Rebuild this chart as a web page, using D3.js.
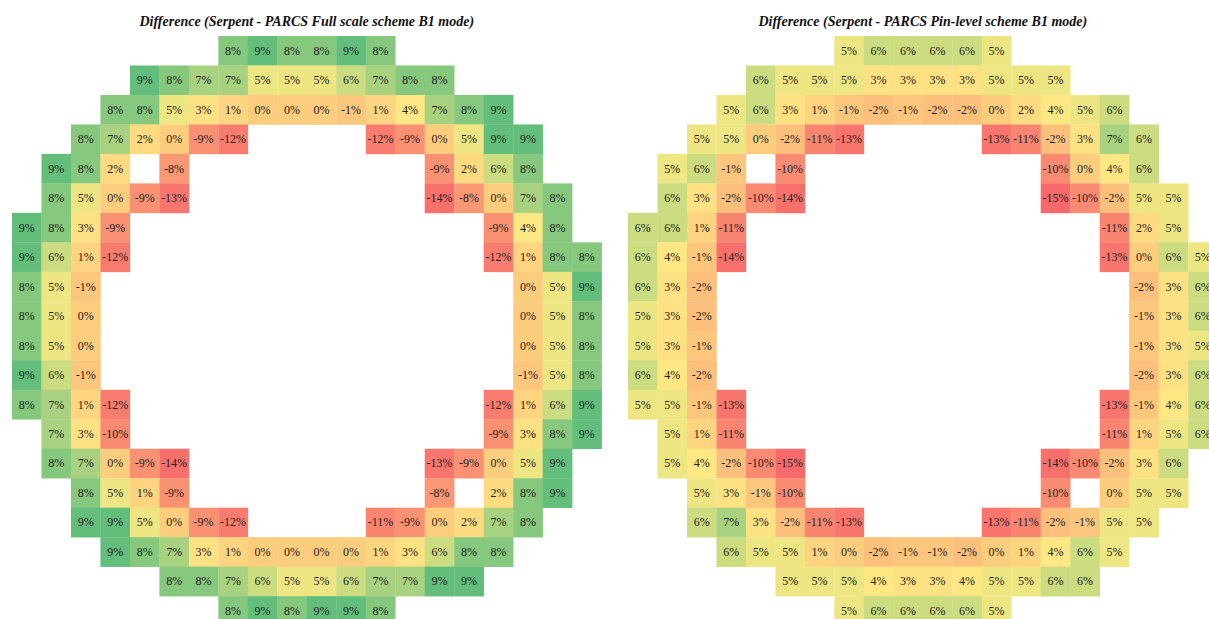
<!DOCTYPE html>
<html>
<head>
<meta charset="utf-8">
<script src="https://cdn.jsdelivr.net/npm/d3@7/dist/d3.min.js"></script>
<style>
  html, body { margin: 0; padding: 0; background: #fff; overflow: hidden; }
  svg { display: block; }
</style>
</head>
<body>
<svg id="chart" width="1209" height="619"></svg>
<script>
// Core map: 20 x 20 assembly positions, empty positions are null.
const _ = null;

const fullScaleTitle = "Difference (Serpent - PARCS Full scale scheme B1 mode)";
const pinLevelTitle = "Difference (Serpent - PARCS Pin-level scheme B1 mode)";

// Relative difference (%) per assembly, full scale scheme
const fullScaleDiff = [
  [_, _, _, _, _, _, _, 8, 9, 8, 8, 9, 8, _, _, _, _, _, _, _],
  [_, _, _, _, 9, 8, 7, 7, 5, 5, 5, 6, 7, 8, 8, _, _, _, _, _],
  [_, _, _, 8, 8, 5, 3, 1, 0, 0, 0, -1, 1, 4, 7, 8, 9, _, _, _],
  [_, _, 8, 7, 2, 0, -9, -12, _, _, _, _, -12, -9, 0, 5, 9, 9, _, _],
  [_, 9, 8, 2, _, -8, _, _, _, _, _, _, _, _, -9, 2, 6, 8, _, _],
  [_, 8, 5, 0, -9, -13, _, _, _, _, _, _, _, _, -14, -8, 0, 7, 8, _],
  [9, 8, 3, -9, _, _, _, _, _, _, _, _, _, _, _, _, -9, 4, 8, _],
  [9, 6, 1, -12, _, _, _, _, _, _, _, _, _, _, _, _, -12, 1, 8, 8],
  [8, 5, -1, _, _, _, _, _, _, _, _, _, _, _, _, _, _, 0, 5, 9],
  [8, 5, 0, _, _, _, _, _, _, _, _, _, _, _, _, _, _, 0, 5, 8],
  [8, 5, 0, _, _, _, _, _, _, _, _, _, _, _, _, _, _, 0, 5, 8],
  [9, 6, -1, _, _, _, _, _, _, _, _, _, _, _, _, _, _, -1, 5, 8],
  [8, 7, 1, -12, _, _, _, _, _, _, _, _, _, _, _, _, -12, 1, 6, 9],
  [_, 7, 3, -10, _, _, _, _, _, _, _, _, _, _, _, _, -9, 3, 8, 9],
  [_, 8, 7, 0, -9, -14, _, _, _, _, _, _, _, _, -13, -9, 0, 5, 9, _],
  [_, _, 8, 5, 1, -9, _, _, _, _, _, _, _, _, -8, _, 2, 8, 9, _],
  [_, _, 9, 9, 5, 0, -9, -12, _, _, _, _, -11, -9, 0, 2, 7, 8, _, _],
  [_, _, _, 9, 8, 7, 3, 1, 0, 0, 0, 0, 1, 3, 6, 8, 8, _, _, _],
  [_, _, _, _, _, 8, 8, 7, 6, 5, 5, 6, 7, 7, 9, 9, _, _, _, _],
  [_, _, _, _, _, _, _, 8, 9, 8, 9, 9, 8, _, _, _, _, _, _, _]
];

// Relative difference (%) per assembly, pin-level scheme
const pinLevelDiff = [
  [_, _, _, _, _, _, _, 5, 6, 6, 6, 6, 5, _, _, _, _, _, _, _],
  [_, _, _, _, 6, 5, 5, 5, 3, 3, 3, 3, 5, 5, 5, _, _, _, _, _],
  [_, _, _, 5, 6, 3, 1, -1, -2, -1, -2, -2, 0, 2, 4, 5, 6, _, _, _],
  [_, _, 5, 5, 0, -2, -11, -13, _, _, _, _, -13, -11, -2, 3, 7, 6, _, _],
  [_, 5, 6, -1, _, -10, _, _, _, _, _, _, _, _, -10, 0, 4, 6, _, _],
  [_, 6, 3, -2, -10, -14, _, _, _, _, _, _, _, _, -15, -10, -2, 5, 5, _],
  [6, 6, 1, -11, _, _, _, _, _, _, _, _, _, _, _, _, -11, 2, 5, _],
  [6, 4, -1, -14, _, _, _, _, _, _, _, _, _, _, _, _, -13, 0, 6, 5],
  [6, 3, -2, _, _, _, _, _, _, _, _, _, _, _, _, _, _, -2, 3, 6],
  [5, 3, -2, _, _, _, _, _, _, _, _, _, _, _, _, _, _, -1, 3, 6],
  [5, 3, -1, _, _, _, _, _, _, _, _, _, _, _, _, _, _, -1, 3, 5],
  [6, 4, -2, _, _, _, _, _, _, _, _, _, _, _, _, _, _, -2, 3, 6],
  [5, 5, -1, -13, _, _, _, _, _, _, _, _, _, _, _, _, -13, -1, 4, 6],
  [_, 5, 1, -11, _, _, _, _, _, _, _, _, _, _, _, _, -11, 1, 5, 6],
  [_, 5, 4, -2, -10, -15, _, _, _, _, _, _, _, _, -14, -10, -2, 3, 6, _],
  [_, _, 5, 3, -1, -10, _, _, _, _, _, _, _, _, -10, _, 0, 5, 5, _],
  [_, _, 6, 7, 3, -2, -11, -13, _, _, _, _, -13, -11, -2, -1, 5, 5, _, _],
  [_, _, _, 6, 5, 5, 1, 0, -2, -1, -1, -2, 0, 1, 4, 6, 5, _, _, _],
  [_, _, _, _, _, 5, 5, 5, 4, 3, 3, 4, 5, 5, 6, 6, _, _, _, _],
  [_, _, _, _, _, _, _, 5, 6, 6, 6, 6, 5, _, _, _, _, _, _, _]
];

const gridSize = 20;
const cellSize = 29.48;
const colorMid = 4.5;

const svg = d3.select("#chart");

// Shared three-colour scale (red - yellow - green) across both maps
const allValues = fullScaleDiff.flat().concat(pinLevelDiff.flat()).filter(v => v !== null);
const color = d3.scaleLinear()
  .domain([d3.min(allValues), colorMid, d3.max(allValues)])
  .range(["#F8696B", "#FFEB84", "#63BE7B"])
  .clamp(true);

function drawMap(grid, title, left, top) {
  const idx = d3.range(gridSize);
  const x = d3.scaleBand().domain(idx).range([left, left + gridSize * cellSize]).padding(0);
  const y = d3.scaleBand().domain(idx).range([top, top + gridSize * cellSize]).padding(0);

  const cells = [];
  grid.forEach((row, r) => row.forEach((v, c) => {
    if (v !== null) cells.push({ r, c, v });
  }));

  const g = svg.append("g");

  g.selectAll("rect")
    .data(cells)
    .join("rect")
    .attr("x", d => x(d.c))
    .attr("y", d => y(d.r))
    .attr("width", x.bandwidth() + 0.3)
    .attr("height", y.bandwidth() + 0.3)
    .attr("fill", d => color(d.v));

  g.selectAll("text.val")
    .data(cells)
    .join("text")
    .attr("class", "val")
    .attr("x", d => x(d.c) + x.bandwidth() / 2)
    .attr("y", d => y(d.r) + y.bandwidth() / 2)
    .attr("text-anchor", "middle")
    .attr("dominant-baseline", "central")
    .attr("font-family", "'Liberation Serif', 'Times New Roman', serif")
    .attr("font-size", 12)
    .attr("fill", "#222")
    .text(d => d.v + "%");

  g.append("text")
    .attr("x", left + gridSize * cellSize / 2)
    .attr("y", 26)
    .attr("text-anchor", "middle")
    .attr("font-family", "'Liberation Serif', 'Times New Roman', serif")
    .attr("font-size", 14)
    .attr("font-weight", "bold")
    .attr("font-style", "italic")
    .attr("fill", "#111")
    .text(title);
}

drawMap(fullScaleDiff, fullScaleTitle, 12, 36);
drawMap(pinLevelDiff, pinLevelTitle, 628, 36);
</script>
</body>
</html>
